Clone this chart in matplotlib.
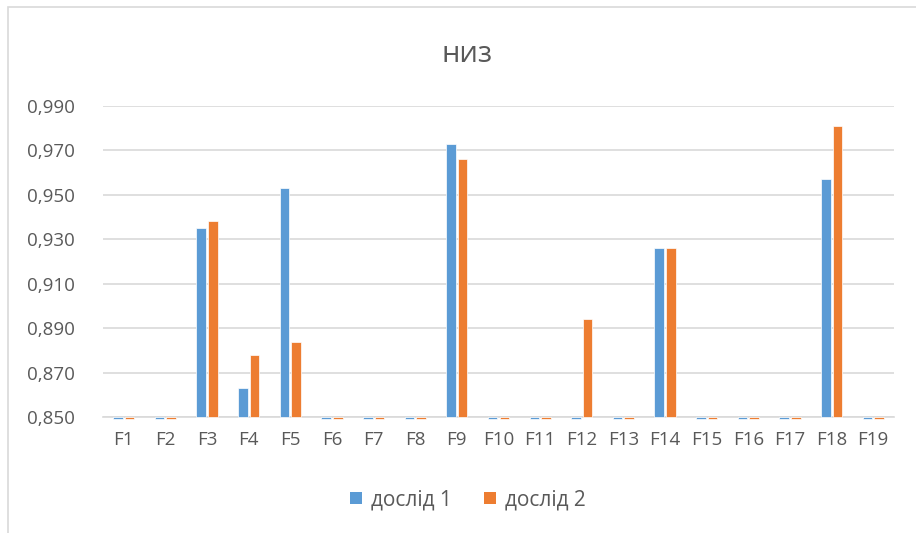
import matplotlib
matplotlib.use("Agg")
import matplotlib.pyplot as plt
import numpy as np
from matplotlib.patches import Rectangle
from matplotlib.lines import Line2D

categories = [f"F{i}" for i in range(1, 20)]
series_1 = [0.849, 0.849, 0.935, 0.863, 0.953, 0.849, 0.849, 0.849, 0.973, 0.849,
            0.849, 0.849, 0.849, 0.926, 0.849, 0.849, 0.849, 0.957, 0.849]
series_2 = [0.849, 0.849, 0.938, 0.878, 0.884, 0.849, 0.849, 0.849, 0.966, 0.849,
            0.849, 0.894, 0.849, 0.926, 0.849, 0.849, 0.849, 0.981, 0.849]
series_names = ["дослід 1", "дослід 2"]
title = "низ"
y_ticks = [0.85, 0.87, 0.89, 0.91, 0.93, 0.95, 0.97, 0.99]
base = 0.85
colors = ["#5B9BD5", "#ED7D31"]

plt.rcParams['font.family'] = ['Open Sans', 'DejaVu Sans']
text_color = "#595959"

fig = plt.figure(figsize=(9.16, 5.33), dpi=100)
ax = fig.add_axes([0.1124, 0.2173, 0.976 - 0.1124, 0.5844])

x = np.arange(len(categories))
w = 0.23
off = 0.14
for vals, dx, col in [(series_1, -off, colors[0]), (series_2, off, colors[1])]:
    h = [v - base for v in vals]
    bars = ax.bar(x + dx, h, width=w, bottom=base, color=col,
                  edgecolor="white", linewidth=0.5, zorder=3)
    for b in bars:
        b.set_clip_on(False)

ax.set_ylim(base, 0.99)
ax.set_xlim(-0.5, len(categories) - 0.5)
ax.set_yticks(y_ticks)
ax.set_yticklabels([f"{t:.3f}".replace(".", ",") for t in y_ticks])
ax.set_xticks(x)
ax.set_xticklabels(categories)
ax.tick_params(axis="both", length=0, labelsize=13.5, colors=text_color)
ax.tick_params(axis="y", pad=20)
ax.tick_params(axis="x", pad=10)
ax.grid(axis="y", color="#D9D9D9", linewidth=1.2, zorder=0)
for s in ["top", "right", "left"]:
    ax.spines[s].set_visible(False)
ax.spines["bottom"].set_color("#D9D9D9")
ax.spines["bottom"].set_linewidth(1.2)
ax.spines["bottom"].set_zorder(2)

fig.text(0.5095, 1 - 54 / 533, title, ha="center", va="center",
         fontsize=21, color=text_color)

handles = [Line2D([], [], linestyle="none", marker="s", markersize=9,
                  markerfacecolor=c, markeredgewidth=0) for c in colors]
leg = fig.legend(handles, series_names, loc="center",
                 bbox_to_anchor=(0.51, 1 - 500 / 533), ncol=2,
                 frameon=False, fontsize=15, handlelength=0.7,
                 handletextpad=0.35, columnspacing=1.5)
for t in leg.get_texts():
    t.set_color(text_color)

fig.patches.append(Rectangle((8 / 916, -0.1), 1.2, 1 - 7 / 533 + 0.1,
                             transform=fig.transFigure, fill=False,
                             edgecolor="#D9D9D9", linewidth=1.2))

fig.savefig("out.png", dpi=100, facecolor="white")
